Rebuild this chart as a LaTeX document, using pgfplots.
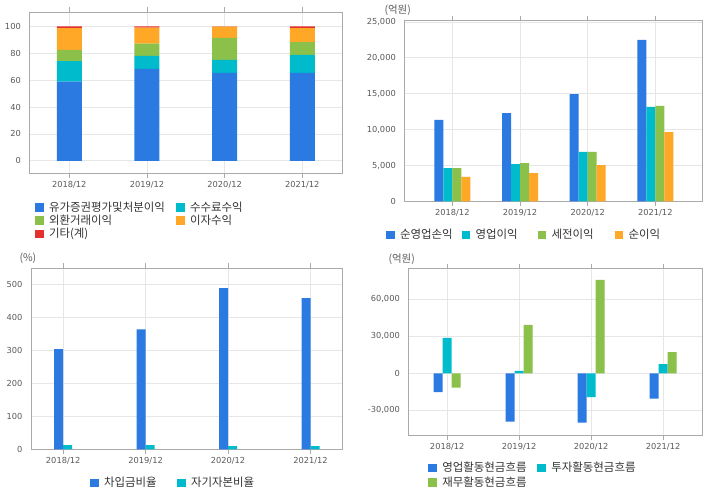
\documentclass[border=0pt]{standalone}
\usepackage{fontspec}
\setmainfont{Noto Sans CJK KR}
\newfontfamily\tickfont{DejaVu Sans}
\usepackage{pgfplots}
\pgfplotsset{compat=1.18}
\definecolor{cblue}{HTML}{2A7AE2}
\definecolor{ccyan}{HTML}{00BBCC}
\definecolor{cgreen}{HTML}{8BC04A}
\definecolor{corange}{HTML}{FFA726}
\definecolor{cred}{HTML}{E53030}
\definecolor{cgrid}{HTML}{E6E6E6}
\definecolor{cframe}{HTML}{AAAAAA}
\definecolor{ctick}{HTML}{5A5A5A}
\definecolor{ctext}{HTML}{333333}
\pgfplotsset{
  base/.style={
    scale only axis,
    anchor=north west,
    axis line style={cframe, line width=0.9bp},
    xmajorgrids, ymajorgrids,
    major grid style={cgrid, line width=0.8bp},
    tick label style={font=\tickfont\fontsize{8.3}{10}\selectfont, text=ctick},
    /pgf/number format/assume math mode=true,
    scaled y ticks=false,
    xtick={0,1,2,3},
    xticklabels={2018/12,2019/12,2020/12,2021/12},
    tick align=outside,
    major tick length=5bp,
    xtick style={cframe, line width=0.8bp},
    ytick style={draw=none},
    legend cell align=left,
    legend style={draw=none, fill=none, font=\fontsize{11.5}{13}\selectfont, text=ctext,
      inner sep=0pt, outer sep=0pt,
      nodes={inner sep=0pt, outer sep=0pt},
      /tikz/every odd column/.append style={column sep=5.5bp}},
  },
  sq/.style={legend image code/.code={\fill[##1] (0bp,-4.25bp) rectangle (8.5bp,4.25bp);}},
}
\begin{document}
\begin{tikzpicture}
\path[use as bounding box] (0,0) rectangle (720bp,-496bp);

% Panel 1
\begin{axis}[base, at={(29.3bp,-12bp)}, width=313.4bp, height=161bp,
  xmin=-0.515, xmax=3.52, ymin=-9, ymax=110.6,
  ytick={0,20,40,60,80,100},
  ybar stacked, bar width=25bp, sq,
  legend columns=2,
  legend style={at={(0.0182,-0.1800)}, anchor=north west, row sep=2.2bp},
]
\addplot[fill=cblue, draw=none] coordinates {(0,58.9) (1,68.3) (2,65.3) (3,65.3)};
\addlegendentry{\makebox[127bp][l]{유가증권평가및처분이익}}
\addplot[fill=ccyan, draw=none] coordinates {(0,15.3) (1,9.7) (2,9.7) (3,13.4)};
\addlegendentry{수수료수익}
\addplot[fill=cgreen, draw=none] coordinates {(0,8.2) (1,9.1) (2,16.3) (3,9.6)};
\addlegendentry{\makebox[127bp][l]{외환거래이익}}
\addplot[fill=corange, draw=none] coordinates {(0,16.3) (1,11.9) (2,8.4) (3,10.4)};
\addlegendentry{이자수익}
\addplot[fill=cred, draw=none] coordinates {(0,1.3) (1,1.0) (2,0.3) (3,1.3)};
\addlegendentry{\makebox[127bp][l]{기타(계)}}
\end{axis}

% Panel 2
\begin{axis}[base, at={(404.3bp,-20.7bp)}, width=298.4bp, height=180.6bp,
  xmin=-0.71, xmax=3.70, ymin=0, ymax=25180,
  ytick={0,5000,10000,15000,20000,25000},
  yticklabels={0,{5,000},{10,000},{15,000},{20,000},{25,000}},
  ybar=0pt, bar width=9bp, sq,
  legend columns=4,
  legend style={at={(-0.0613,-0.1866)}, anchor=west},
]
\addplot[fill=cblue, draw=none, bar shift=-13.5bp] coordinates {(0,11340) (1,12310) (2,14960) (3,22500)};
\addlegendentry{\makebox[61.5bp][l]{순영업손익}}
\addplot[fill=ccyan, draw=none, bar shift=-4.5bp] coordinates {(0,4640) (1,5200) (2,6880) (3,13150)};
\addlegendentry{\makebox[62bp][l]{영업이익}}
\addplot[fill=cgreen, draw=none, bar shift=4.5bp] coordinates {(0,4640) (1,5340) (2,6880) (3,13290)};
\addlegendentry{\makebox[63bp][l]{세전이익}}
\addplot[fill=corange, draw=none, bar shift=13.5bp] coordinates {(0,3390) (1,3930) (2,5060) (3,9660)};
\addlegendentry{순이익}
\end{axis}

% Panel 3
\begin{axis}[base, at={(31bp,-268bp)}, width=311.7bp, height=181.3bp,
  xmin=-0.39, xmax=3.39, ymin=0, ymax=550,
  ytick={0,100,200,300,400,500},
  ybar=0pt, bar width=9bp, sq,
  legend columns=2,
  legend style={at={(0.1893,-0.1859)}, anchor=west},
]
\addplot[fill=cblue, draw=none, bar shift=-4.5bp] coordinates {(0,304) (1,364) (2,489) (3,459)};
\addlegendentry{\makebox[73bp][l]{차입금비율}}
\addplot[fill=ccyan, draw=none, bar shift=4.5bp] coordinates {(0,13) (1,13) (2,10) (3,10)};
\addlegendentry{자기자본비율}
\end{axis}

% Panel 4
\begin{axis}[base, at={(408.3bp,-268.7bp)}, width=294.4bp, height=166.6bp,
  xmin=-0.54, xmax=3.55, ymin=-50270, ymax=84800,
  ytick={-30000,0,30000,60000},
  yticklabels={{-30,000},0,{30,000},{60,000}},
  ybar=0pt, bar width=9bp, sq,
  legend columns=2,
  legend style={at={(0.0679,-0.1620)}, anchor=north west, row sep=3.5bp},
]
\addplot[fill=cblue, draw=none, bar shift=-9bp] coordinates {(0,-15170) (1,-39250) (2,-40060) (3,-20600)};
\addlegendentry{\makebox[95bp][l]{영업활동현금흐름}}
\addplot[fill=ccyan, draw=none, bar shift=0bp] coordinates {(0,28630) (1,1870) (2,-19220) (3,7540)};
\addlegendentry{투자활동현금흐름}
\addplot[fill=cgreen, draw=none, bar shift=9bp] coordinates {(0,-11680) (1,39170) (2,75670) (3,17270)};
\addlegendentry{\makebox[95bp][l]{재무활동현금흐름}}
\end{axis}

\node[font=\fontsize{10.5}{12}\selectfont, text=ctick, anchor=west] at (381bp,-10bp) {(억원)};
\node[font=\fontsize{10.5}{12}\selectfont, text=ctick, anchor=west] at (16bp,-258.7bp) {(\%)};
\node[font=\fontsize{10.5}{12}\selectfont, text=ctick, anchor=west] at (385bp,-258.7bp) {(억원)};
\end{tikzpicture}
\end{document}
